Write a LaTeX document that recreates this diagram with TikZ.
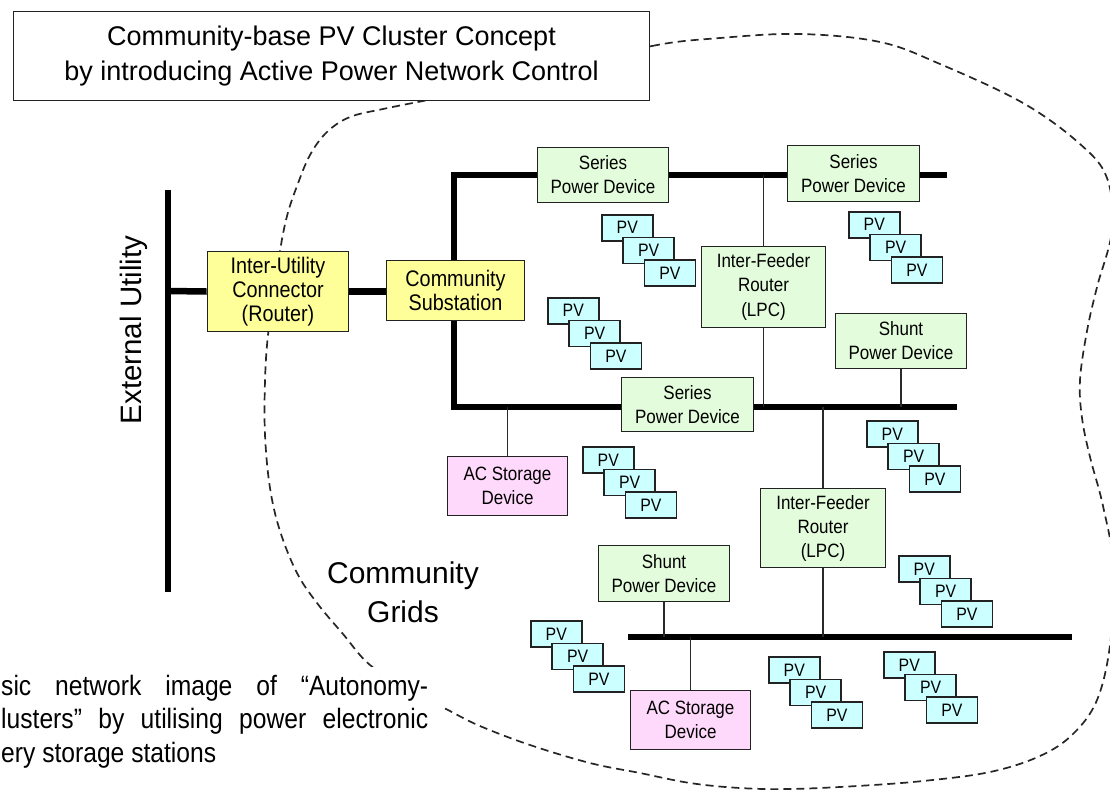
\documentclass[tikz,border=0pt]{standalone}
\usepackage{fontspec}
\setmainfont{Liberation Sans}
\newfontfamily\narrowsans{Liberation Sans}[FakeStretch=0.88]
\pgfdeclarelayer{background}
\pgfsetlayers{background,main}

\definecolor{ybox}{HTML}{FFFF99}
\definecolor{gbox}{HTML}{E3FDDC}
\definecolor{pbox}{HTML}{FFD9FB}
\definecolor{pvfill}{HTML}{CCFFFF}
\definecolor{boxline}{HTML}{222222}
\definecolor{tapline}{HTML}{2A2A2A}

\tikzset{
  devbox/.style={draw=boxline, line width=1.7pt, align=center, inner sep=0pt,
                 font=\narrowsans\fontsize{19.3}{24}\selectfont},
  yellowbox/.style={devbox, fill=ybox, font=\narrowsans\fontsize{22.5}{24}\selectfont},
  greenbox/.style={devbox, fill=gbox},
  pinkbox/.style={devbox, fill=pbox},
  pvbox/.style={draw=boxline, line width=1.6pt, fill=pvfill, anchor=north west,
                minimum width=51pt, minimum height=26pt, inner sep=0pt,
                font=\narrowsans\fontsize{18}{18}\selectfont},
  bus/.style={line width=6.5pt, line join=miter, draw=black},
  tap/.style={line width=1.9pt, draw=tapline},
  boundary/.style={dash pattern=on 8pt off 5pt, line width=1.7pt, draw=black!85},
  bigtext/.style={inner sep=0pt, align=center},
  captext/.style={anchor=base west, inner sep=0pt, font=\narrowsans\fontsize{28}{28}\selectfont},
}

\begin{document}
\begin{tikzpicture}[x=1pt,y=-1pt]
\useasboundingbox (0,0) rectangle (1110,790);
\clip (0,0) rectangle (1110,790);

% ---- title ----
\node[draw=boxline, line width=1.5pt, fill=white, minimum width=636pt, minimum height=89pt,
      align=center, font=\fontsize{27}{35}\selectfont] (title) at (331.5,56)
  {Community-base PV Cluster Concept\\by introducing Active Power Network Control};

% ---- utility side ----
\node[bigtext, rotate=90, font=\fontsize{29.5}{30}\selectfont] (ext) at (134,330) {External Utility};
\node[yellowbox, minimum width=141pt, minimum height=80pt] (iu) at (278,291.5)
  {Inter-Utility\\Connector\\(Router)};
\node[yellowbox, minimum width=138pt, minimum height=60pt] (cs) at (455.5,290.5)
  {Community\\Substation};

% ---- feeder devices ----
\node[greenbox, minimum width=131pt, minimum height=55pt] (spd1) at (603,175) {Series\\Power Device};
\node[greenbox, minimum width=132pt, minimum height=56pt] (spd2) at (853.5,173.5) {Series\\Power Device};
\node[greenbox, minimum width=124pt, minimum height=81pt] (ifr1) at (763.5,287) {Inter-Feeder\\Router\\(LPC)};
\node[greenbox, minimum width=131pt, minimum height=55pt] (shp1) at (901,341) {Shunt\\Power Device};
\node[greenbox, minimum width=132pt, minimum height=54pt] (spd3) at (687.5,404.5) {Series\\Power Device};
\node[pinkbox, minimum width=120pt, minimum height=59pt] (acs1) at (507.5,486) {AC Storage\\Device};
\node[greenbox, minimum width=125pt, minimum height=79pt] (ifr2) at (823,528) {Inter-Feeder\\Router\\(LPC)};
\node[greenbox, minimum width=131pt, minimum height=56pt] (shp2) at (664,573.5) {Shunt\\Power Device};
\node[pinkbox, minimum width=120pt, minimum height=59pt] (acs2) at (690.5,720) {AC Storage\\Device};

% ---- PV clusters: three overlapping panels each ----
\foreach \s/\x/\y in {A/601/214, B/848/211, C/547/297, D/582/446, E/866/420,
                      F/898/555, G/530/620, H/768/656, I/883/651} {
  \node[pvbox] (pv\s1) at (\x,\y) {PV};
  \node[pvbox] (pv\s2) at ({\x+21.3},{\y+22.7}) {PV};
  \node[pvbox] (pv\s3) at ({\x+42.6},{\y+45.4}) {PV};
}

\node[bigtext, font=\fontsize{30}{39}\selectfont] (grids) at (403,592) {Community\\Grids};

% ---- caption ----
\fill[white] (-2,667) rectangle (442,792);
\node[captext] (cap1) at (1,695) {\makebox[427pt][s]{sic network image of “Autonomy-}};
\node[captext] (cap2) at (1,728.5) {\makebox[427pt][s]{lusters” by utilising power electronic}};
\node[captext] (cap3) at (1,762) {ery storage stations};

% ---- bus bars ----
\coordinate (euTop) at (168,190);
\coordinate (euBot) at (168,592);
\coordinate (euTap) at (168,291);
\coordinate (fTopL) at (454,175);
\coordinate (fTopR) at (947,175);
\coordinate (fMidL) at (454,407);
\coordinate (fMidR) at (957,407);
\coordinate (fLowL) at (628,637);
\coordinate (fLowR) at (1072,637);

\begin{pgfonlayer}{background}
  % community boundary
  \draw[boundary] plot[smooth cycle, tension=0.6] coordinates {
    (560,70) (652,46) (720,38) (800,34) (880,42) (940,64) (1023,103) (1080,144)
    (1107,178) (1112,230) (1097,287) (1087,331) (1080,380) (1082,418) (1090,457)
    (1103,506) (1114,570) (1110,645) (1097,700) (1073,734) (1040,756) (990,772)
    (923,781) (857,786) (790,789) (740,788) (690,783) (640,773) (590,763)
    (530,745) (480,726) (448,710) (410,690) (370,665) (343,634) (317,603)
    (297,573) (280,531) (270,488) (265,435) (265,381) (268,335) (275,290)
    (280,251) (287,216) (297,186) (310,155) (327,132) (350,117) (383,109)
    (423,101) (480,90)};

  \draw[bus] (euTop) -- (euBot);
  \draw[bus] (euTap) -- (iu.west);
  \draw[bus] (iu.east) -- (iu.east -| cs.west);
  \draw[bus] (fTopR) -- (fTopL) -- (fMidL) -- (fMidR);
  \draw[bus] (fLowL) -- (fLowR);

  \draw[tap] (ifr1.north |- fTopL) -- (ifr1.south |- fMidL);
  \draw[tap] (shp1.south) -- (shp1.south |- fMidL);
  \draw[tap] (acs1.north) -- (acs1.north |- fMidL);
  \draw[tap] (ifr2.north |- fMidL) -- (ifr2.south |- fLowL);
  \draw[tap] (shp2.south) -- (shp2.south |- fLowL);
  \draw[tap] (acs2.north) -- (acs2.north |- fLowL);
\end{pgfonlayer}
\end{tikzpicture}
\end{document}
